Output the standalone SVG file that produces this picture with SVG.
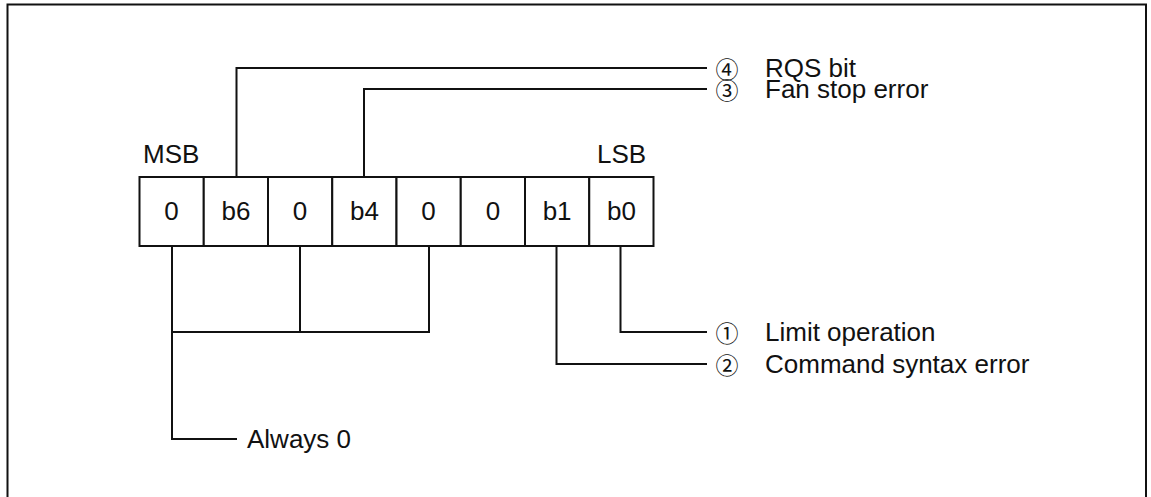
<svg xmlns="http://www.w3.org/2000/svg" width="1151" height="497" viewBox="0 0 1151 497">
<style>
.t{font-family:"Liberation Sans",Arial,sans-serif;font-size:26px;fill:#111}
.c{font-family:"Noto Sans CJK JP","DejaVu Sans",sans-serif;font-size:23px;fill:#111;text-anchor:middle;dominant-baseline:central}
.m{text-anchor:middle}
.b{fill:#fff;stroke:#111;stroke-width:2}
.w{fill:none;stroke:#111;stroke-width:2}
</style>
<rect width="1151" height="497" fill="#fff"/>
<rect x="7.5" y="4.5" width="1138.5" height="510" class="w"/>
<g id="register">
<text class="t" x="143" y="163">MSB</text>
<text class="t" x="597" y="163">LSB</text>
<g id="bit7"><rect class="b" x="139.5" y="177" width="64.25" height="69"/><text class="t m" x="171.6" y="220">0</text></g>
<g id="bit6"><rect class="b" x="203.75" y="177" width="64.25" height="69"/><text class="t m" x="235.9" y="220">b6</text></g>
<g id="bit5"><rect class="b" x="268" y="177" width="64.25" height="69"/><text class="t m" x="300.1" y="220">0</text></g>
<g id="bit4"><rect class="b" x="332.25" y="177" width="64.25" height="69"/><text class="t m" x="364.4" y="220">b4</text></g>
<g id="bit3"><rect class="b" x="396.5" y="177" width="64.25" height="69"/><text class="t m" x="428.6" y="220">0</text></g>
<g id="bit2"><rect class="b" x="460.75" y="177" width="64.25" height="69"/><text class="t m" x="492.9" y="220">0</text></g>
<g id="bit1"><rect class="b" x="525" y="177" width="64.25" height="69"/><text class="t m" x="557.1" y="220">b1</text></g>
<g id="bit0"><rect class="b" x="589.25" y="177" width="64.25" height="69"/><text class="t m" x="621.4" y="220">b0</text></g>
</g>
<g id="connectors" class="w">
<polyline points="236.5,177 236.5,68 707,68"/>
<polyline points="364,177 364,89 707,89"/>
<polyline points="620.5,246 620.5,332 707,332"/>
<polyline points="556.5,246 556.5,364 707,364"/>
<polyline points="172,246 172,439 237,439"/>
<polyline points="300,246 300,332"/>
<polyline points="429,246 429,332 172,332"/>
</g>
<g id="label-rqs"><text class="c" x="727" y="68">④</text><text class="t" x="765" y="77">RQS bit</text></g>
<g id="label-fan"><text class="c" x="727" y="89">③</text><text class="t" x="765" y="98">Fan stop error</text></g>
<g id="label-limit"><text class="c" x="727" y="332">①</text><text class="t" x="765" y="341">Limit operation</text></g>
<g id="label-cmd"><text class="c" x="727" y="364">②</text><text class="t" x="765" y="373">Command syntax error</text></g>
<g id="label-always"><text class="t" x="247" y="448">Always 0</text></g>
</svg>
